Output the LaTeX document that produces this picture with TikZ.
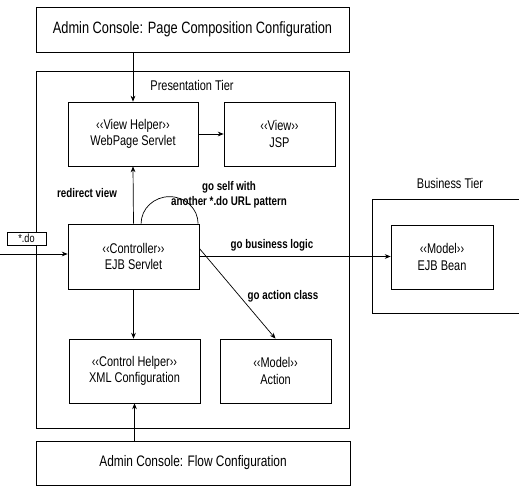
\documentclass[tikz,border=0pt]{standalone}
\usepackage{fontspec}
\setmainfont[FakeStretch=0.78]{Liberation Sans}
\usetikzlibrary{arrows.meta}

\begin{document}
\begin{tikzpicture}[x=0.03cm, y=-0.03cm, line width=0.6pt,
  box/.style={draw, rectangle, inner sep=0pt, align=center, font=\fontsize{12}{14}\selectfont},
  lbl/.style={font=\fontsize{10.7}{12.5}\selectfont\bfseries, align=center},
  arr/.style={-{Stealth[length=5pt, width=4pt]}}]
\useasboundingbox (0,0) rectangle (519,487);

% Admin consoles
\node[box, minimum width=313*0.03cm, minimum height=45*0.03cm, font=\fontsize{14}{16}\selectfont] (pagecfg) at (192.5,29.5) {Admin Console: Page Composition Configuration};
\node[box, minimum width=314*0.03cm, minimum height=44*0.03cm, font=\fontsize{13}{15}\selectfont] (flowcfg) at (193,463) {Admin Console: Flow Configuration};

% Presentation tier
\node[draw, rectangle, minimum width=313*0.03cm, minimum height=357*0.03cm] (prestier) at (192.5,249.5) {};
\node[font=\fontsize{12}{14}\selectfont] (prestitle) at (192,85) {Presentation Tier};
\node[box, minimum width=130*0.03cm, minimum height=64*0.03cm] (webpage) at (133,134) {‹‹View Helper››\\WebPage Servlet};
\node[box, minimum width=111*0.03cm, minimum height=64*0.03cm] (jsp) at (279.5,134) {‹‹View››\\JSP};
\node[box, minimum width=131*0.03cm, minimum height=65*0.03cm] (ctrl) at (133.5,256.5) {‹‹Controller››\\EJB Servlet};
\node[box, minimum width=131*0.03cm, minimum height=64*0.03cm] (xml) at (134.5,371) {‹‹Control Helper››\\XML Configuration};
\node[box, minimum width=111*0.03cm, minimum height=64*0.03cm] (action) at (275.5,371) {‹‹Model››\\Action};

% Business tier
\draw (519,199) -- (372,199) -- (372,313) -- (519,313);
\node[font=\fontsize{12}{14}\selectfont] (bustitle) at (450,183) {Business Tier};
\node[box, minimum width=102*0.03cm, minimum height=64*0.03cm] (bean) at (442,257) {‹‹Model››\\EJB Bean};

% request
\node[box, minimum width=39*0.03cm, minimum height=13*0.03cm, fill=white, font=\fontsize{10}{12}\selectfont] (dobox) at (26.5,238.5) {*.do};
\coordinate (req) at (0,254);

\draw[arr] (pagecfg.south -| webpage.north) -- (webpage.north);
\draw[arr] (webpage.east) -- (jsp.west);
\draw[arr] (ctrl.north) -- (webpage.south);
\draw[arr] (ctrl.south) -- (ctrl.south |- xml.north);
\draw[arr] (xml.south |- flowcfg.north) -- (xml.south);
\draw[arr] (req) -- (req -| ctrl.west);
\draw[arr] (ctrl.east) -- (ctrl.east -| bean.west);
\draw[arr] (ctrl.7) -- (action.north);
\draw (ctrl.77) arc[start angle=180, end angle=360, x radius=28.5, y radius=27];

\node[lbl] (redir) at (87,193) {redirect view};
\node[lbl] (self) at (229,194.5) {go self with\\another *.do URL pattern};
\node[lbl] (bizlogic) at (272,245) {go business logic};
\node[lbl] (actcls) at (283,296) {go action class};
\end{tikzpicture}
\end{document}
